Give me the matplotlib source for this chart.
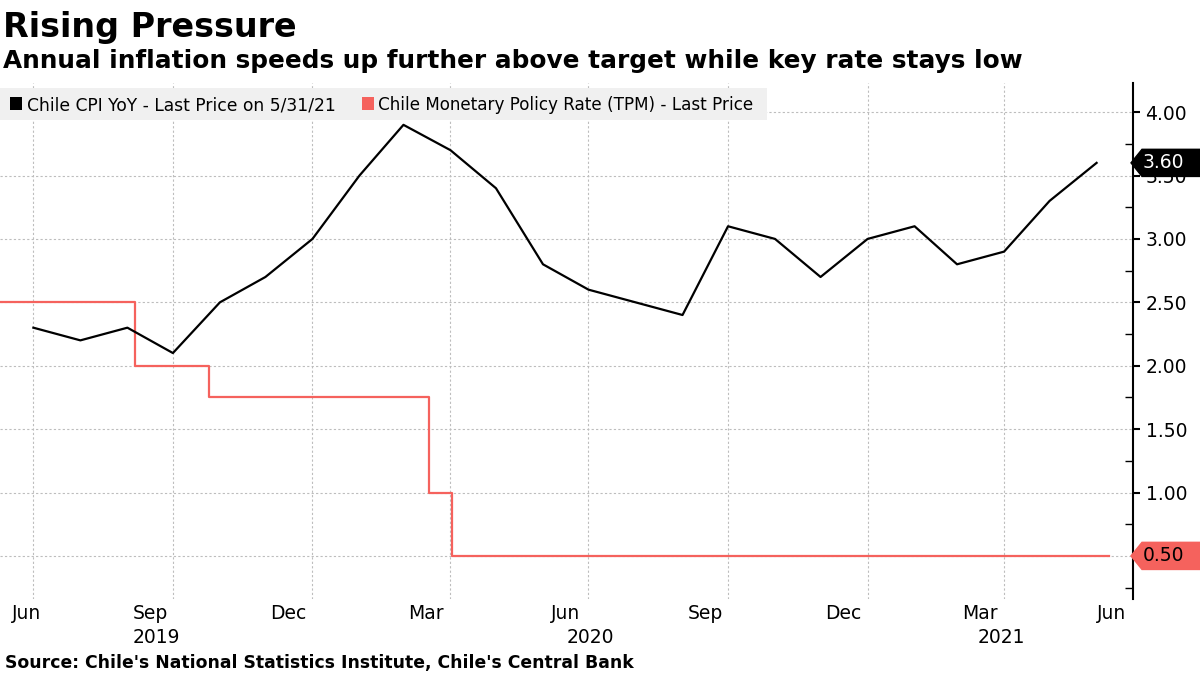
import datetime as dt
import matplotlib
matplotlib.use('Agg')
import matplotlib.pyplot as plt
import matplotlib.dates as mdates
import matplotlib.transforms as mtransforms
from matplotlib.patches import Polygon, Rectangle
from matplotlib.ticker import MultipleLocator, FuncFormatter
import pandas as pd

plt.rcParams['font.family'] = ['DejaVu Sans']

# Chile CPI YoY (month end values)
cpi_dates = pd.date_range('2019-06-30', periods=24, freq=pd.offsets.MonthEnd())
cpi_values = [2.3, 2.2, 2.3, 2.1, 2.5, 2.7, 3.0, 3.5, 3.9, 3.7, 3.4, 2.8,
              2.6, 2.5, 2.4, 3.1, 3.0, 2.7, 3.0, 3.1, 2.8, 2.9, 3.3, 3.6]

# Monetary policy rate (TPM), step changes
tpm_dates = pd.to_datetime(['2019-06-08', '2019-09-05', '2019-10-24',
                            '2020-03-17', '2020-04-01', '2021-06-08'])
tpm_values = [2.5, 2.0, 1.75, 1.0, 0.5, 0.5]

# x axis
grid_dates = pd.to_datetime(['2019-06-30', '2019-09-30', '2019-12-31', '2020-03-31',
                             '2020-06-30', '2020-09-30', '2020-12-31', '2021-03-31'])
month_labels = ['Jun', 'Sep', 'Dec', 'Mar', 'Jun', 'Sep', 'Dec', 'Mar', 'Jun']
month_label_dates = pd.to_datetime(['2019-06-15', '2019-09-15', '2019-12-15', '2020-03-15',
                                    '2020-06-15', '2020-09-15', '2020-12-15', '2021-03-15',
                                    '2021-06-15'])
year_labels = ['2019', '2020', '2021']
x_start = pd.Timestamp('2019-06-08')
x_end = pd.Timestamp('2021-06-24')

RED = '#f5625d'
GRID = '#bdbdbd'
W, H = 1200, 675

fig = plt.figure(figsize=(12, 6.75), dpi=100)
ax = fig.add_axes([0, 1 - 599 / H, 1133 / W, (599 - 83) / H])

ax.plot(cpi_dates, cpi_values, color='black', lw=1.6, zorder=4)
ax.step(tpm_dates, tpm_values, where='post', color=RED, lw=1.6, zorder=3)

ax.set_xlim(x_start, x_end)
ax.set_ylim(0.16, 4.23)

ax.set_xticks(grid_dates)
ax.set_xticklabels([])
ax.tick_params(axis='x', length=0)

# the last values get their own tags, so the 0.50 tick label is left out
ax.yaxis.tick_right()
ax.yaxis.set_major_locator(MultipleLocator(0.5))
ax.yaxis.set_minor_locator(MultipleLocator(0.25))
ax.yaxis.set_major_formatter(FuncFormatter(lambda v, p: '' if abs(v - 0.5) < 1e-6 else '%.2f' % v))
ax.tick_params(axis='y', which='major', direction='out', length=5, width=1.5,
               labelsize=13.5, pad=4)
ax.tick_params(axis='y', which='minor', direction='in', length=6, width=1)

for s in ['left', 'top', 'bottom']:
    ax.spines[s].set_visible(False)
ax.spines['right'].set_linewidth(1.5)

ax.grid(True, which='major', color=GRID, linestyle=(0, (2, 2)), linewidth=0.8)

# month / year labels
xd = mtransforms.blended_transform_factory(ax.transData, fig.transFigure)
for i, (lab, d) in enumerate(zip(month_labels, month_label_dates)):
    if i == 0:
        fig.text(12 / W, 1 - 619 / H, lab, ha='left', va='baseline', fontsize=13.5)
    elif i == len(month_labels) - 1:
        fig.text(1126 / W, 1 - 619 / H, lab, ha='right', va='baseline', fontsize=13.5)
    else:
        fig.text(mdates.date2num(d), 1 - 619 / H, lab, ha='center', va='baseline',
                 fontsize=13.5, transform=xd)

year_spans = [(x_start, pd.Timestamp('2019-12-31')),
              (pd.Timestamp('2020-01-01'), pd.Timestamp('2020-12-31')),
              (pd.Timestamp('2021-01-01'), x_end)]
for lab, (a, b) in zip(year_labels, year_spans):
    mid = (mdates.date2num(a) + mdates.date2num(b)) / 2
    fig.text(mid, 1 - 643 / H, lab, ha='center', va='baseline', fontsize=13.5, transform=xd)

# value tags on the right
yd = mtransforms.blended_transform_factory(fig.transFigure, ax.transData)


def tag(y, text, face, tcolor):
    hh = 0.107
    pts = [(1131 / W, y), (1142 / W, y + hh), (1.0, y + hh), (1.0, y - hh), (1142 / W, y - hh)]
    fig.add_artist(Polygon(pts, closed=True, transform=yd, facecolor=face,
                           edgecolor=face, zorder=5, clip_on=False))
    fig.text(1143 / W, y, text, transform=yd, color=tcolor, fontsize=13.5,
             ha='left', va='center', zorder=6)


tag(cpi_values[-1], '%.2f' % cpi_values[-1], 'black', 'white')
tag(tpm_values[-1], '%.2f' % tpm_values[-1], RED, 'black')

# legend
fig.add_artist(Rectangle((0, 1 - 120 / H), 767 / W, 32 / H, transform=fig.transFigure,
                         facecolor='#f0f0f0', edgecolor='none', zorder=2))
fig.add_artist(Rectangle((10 / W, 1 - 110 / H), 12 / W, 13 / H, transform=fig.transFigure,
                         facecolor='black', edgecolor='none', zorder=3))
fig.text(27 / W, 1 - 110 / H, 'Chile CPI YoY - Last Price on 5/31/21', fontsize=12.3,
         va='baseline', zorder=3)
fig.add_artist(Rectangle((362 / W, 1 - 110 / H), 12 / W, 13 / H, transform=fig.transFigure,
                         facecolor=RED, edgecolor='none', zorder=3))
fig.text(378 / W, 1 - 110 / H, 'Chile Monetary Policy Rate (TPM) - Last Price', fontsize=12.1,
         va='baseline', zorder=3)

# titles
fig.text(3 / W, 1 - 37 / H, 'Rising Pressure', fontsize=24, fontweight='bold', va='baseline')
fig.text(3 / W, 1 - 68 / H, 'Annual inflation speeds up further above target while key rate stays low',
         fontsize=17.8, fontweight='bold', va='baseline')
fig.text(5 / W, 1 - 668 / H, "Source: Chile's National Statistics Institute, Chile's Central Bank",
         fontsize=12.4, fontweight='bold', va='baseline')

fig.savefig('out.png', dpi=100)
